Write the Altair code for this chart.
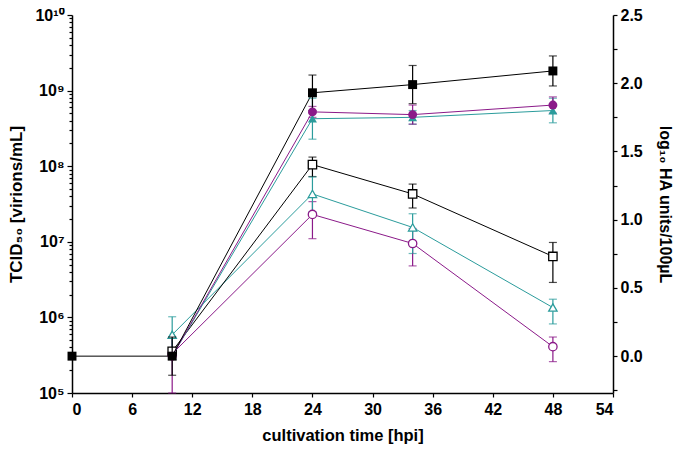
import altair as alt
import pandas as pd

# ---------------- data ----------------
series_keys = ["triangle", "circle", "square"]
series_colors = ["#2b9c9c", "#8b1a89", "#000000"]
series_shapes = ["triangle-up", "circle", "square"]

# HA titres (filled symbols, right axis)
t_ha_square = [0, 10, 24, 34, 48]
ha_square = [0.0, 0.0, 1.93, 1.99, 2.09]
ha_square_err = [0.0, 0.14, 0.13, 0.14, 0.11]
t_ha = [10, 24, 34, 48]
ha_circle = [0.0, 1.79, 1.77, 1.84]
ha_circle_err = [0.0, 0.04, 0.07, 0.06]
ha_triangle = [0.0, 1.74, 1.75, 1.80]
ha_triangle_err = [0.0, 0.15, 0.05, 0.09]

# TCID50 (open symbols, left axis)
t_tcid = [10, 24, 34, 48]
tcid_square = [3.55e5, 1.05e8, 4.3e7, 6.4e6]
tcid_square_lo = [3.55e5, 7.3e7, 2.8e7, 2.9e6]
tcid_square_hi = [3.55e5, 1.32e8, 5.8e7, 9.8e6]
tcid_triangle = [5.9e5, 4.3e7, 1.55e7, 1.35e6]
tcid_triangle_lo = [3.4e5, 2.5e7, 7.0e6, 8.2e5]
tcid_triangle_hi = [1.02e6, 7.2e7, 2.35e7, 1.74e6]
tcid_circle = [3.3e5, 2.3e7, 9.5e6, 4.1e5]
tcid_circle_lo = [1.0e5, 1.1e7, 4.8e6, 2.6e5]
tcid_circle_hi = [5.5e5, 3.4e7, 1.5e7, 5.5e5]

# ---------------- tables ----------------
ha_rows = []
for key, ts, vals, errs in [
    ("triangle", t_ha, ha_triangle, ha_triangle_err),
    ("circle", t_ha, ha_circle, ha_circle_err),
    ("square", t_ha_square, ha_square, ha_square_err),
]:
    for t, v, e in zip(ts, vals, errs):
        ha_rows.append({"s": key, "t": t, "v": v, "lo": v - e, "hi": v + e, "has_err": e > 0})
ha_df = pd.DataFrame(ha_rows)

tc_rows = []
for key, vals, los, his in [
    ("circle", tcid_circle, tcid_circle_lo, tcid_circle_hi),
    ("triangle", tcid_triangle, tcid_triangle_lo, tcid_triangle_hi),
    ("square", tcid_square, tcid_square_lo, tcid_square_hi),
]:
    for t, v, lo, hi in zip(t_tcid, vals, los, his):
        tc_rows.append({"s": key, "t": t, "v": v, "lo": lo, "hi": hi, "has_err": hi > lo})
tc_df = pd.DataFrame(tc_rows)

FONT = "Liberation Sans, Arial, Helvetica, sans-serif"

color_enc = alt.Color("s:N", scale=alt.Scale(domain=series_keys, range=series_colors), legend=None)
shape_enc = alt.Shape("s:N", scale=alt.Scale(domain=series_keys, range=series_shapes), legend=None)

x_vals = list(range(0, 55, 3))
x_axis = alt.Axis(
    values=x_vals,
    labelExpr="datum.value % 6 == 0 ? datum.value : ''",
    title="cultivation time [hpi]",
    grid=False, tickSize=4, tickColor="black", domainColor="black",
    labelFont=FONT, labelFontSize=16, labelFontWeight="bold", labelColor="black",
    titleFont=FONT, titleFontSize=16.5, titleFontWeight="bold", titleColor="black",
    labelPadding=4, titlePadding=10, domainWidth=1.5, tickWidth=1.2,
)
x_enc = alt.X("t:Q", scale=alt.Scale(domain=[0, 54], nice=False, zero=False), axis=x_axis)

# ---- left (log) axis ----
sup = {5: "⁵", 6: "⁶", 7: "⁷", 8: "⁸", 9: "⁹", 10: "¹⁰"}
log_vals = []
for k in range(5, 10):
    for m in range(1, 10):
        log_vals.append(m * 10.0 ** k)
log_vals.append(1e10)
lab = "''"
for k in range(10, 4, -1):
    lab = f"datum.value == {10 ** k} ? '10{sup[k]}' : ({lab})"
left_axis = alt.Axis(
    orient="left", values=log_vals, labelExpr=lab,
    title="TCID₅₀ [virions/mL]", grid=False,
    tickSize={"condition": {"test": "indexof([100000,1000000,10000000,100000000,1000000000,10000000000], datum.value) >= 0", "value": 5}, "value": 3},
    tickColor="black", domainColor="black", domainWidth=1.5, tickWidth=1.2,
    labelFont=FONT, labelFontSize=16, labelFontWeight="bold", labelColor="black",
    titleFont=FONT, titleFontSize=17, titleFontWeight="bold", titleColor="black",
    labelPadding=3, titlePadding=9,
)
log_scale = alt.Scale(type="log", domain=[1e5, 1e10], nice=False)

# ---- right (linear) axis ----
lin_vals = [round(-0.25 + 0.25 * i, 2) for i in range(12)]
right_axis = alt.Axis(
    orient="right", values=lin_vals,
    labelExpr="(datum.value >= 0 && abs(datum.value*2 - round(datum.value*2)) < 0.001) ? format(datum.value, '.1f') : ''",
    title="log₁₀ HA units/100µL", grid=False, tickSize=4,
    tickColor="black", domainColor="black", domainWidth=1.5, tickWidth=1.2,
    labelFont=FONT, labelFontSize=16, labelFontWeight="bold", labelColor="black",
    titleFont=FONT, titleFontSize=16, titleFontWeight="bold", titleColor="black",
    labelPadding=3, titlePadding=14,
)
lin_scale = alt.Scale(domain=[-0.27, 2.5], nice=False, zero=False)

# ---- TCID50 layer ----
tc_base = alt.Chart(tc_df)
tc_line = tc_base.mark_line(strokeWidth=1).encode(
    x=x_enc, y=alt.Y("v:Q", scale=log_scale, axis=left_axis), color=color_enc, detail="s:N")
tc_err = tc_base.transform_filter("datum.has_err").mark_errorbar(
    ticks={"size": 8}, thickness=1.2).encode(
    x="t:Q", y=alt.Y("lo:Q", scale=log_scale, axis=left_axis), y2="hi:Q", color=color_enc)
tc_pts = tc_base.mark_point(filled=False, fill="white", fillOpacity=1, opacity=1,
                            strokeWidth=1.3, size=70).encode(
    x="t:Q", y=alt.Y("v:Q", scale=log_scale, axis=left_axis), color=color_enc, shape=shape_enc)
tc_layer = alt.layer(tc_line, tc_err, tc_pts)

# ---- HA layer ----
ha_base = alt.Chart(ha_df)
ha_line = ha_base.mark_line(strokeWidth=1).encode(
    x=x_enc, y=alt.Y("v:Q", scale=lin_scale, axis=right_axis), color=color_enc, detail="s:N")
ha_err = ha_base.transform_filter("datum.has_err").mark_errorbar(
    ticks={"size": 8}, thickness=1.2).encode(
    x="t:Q", y=alt.Y("lo:Q", scale=lin_scale, axis=right_axis), y2="hi:Q", color=color_enc)
ha_pts = ha_base.mark_point(filled=True, opacity=1, size=80).encode(
    x="t:Q", y=alt.Y("v:Q", scale=lin_scale, axis=right_axis), color=color_enc, shape=shape_enc)
ha_layer = alt.layer(ha_line, ha_err, ha_pts)

chart = alt.layer(tc_layer, ha_layer).resolve_scale(y="independent").properties(
    width=541, height=378, background="white",
    autosize=alt.AutoSizeParams(type="none"),
    padding={"left": 64, "top": 7, "right": 64, "bottom": 52},
).configure_view(stroke=None)

chart.save("out.html", embed_options={"renderer": "svg", "actions": False})
